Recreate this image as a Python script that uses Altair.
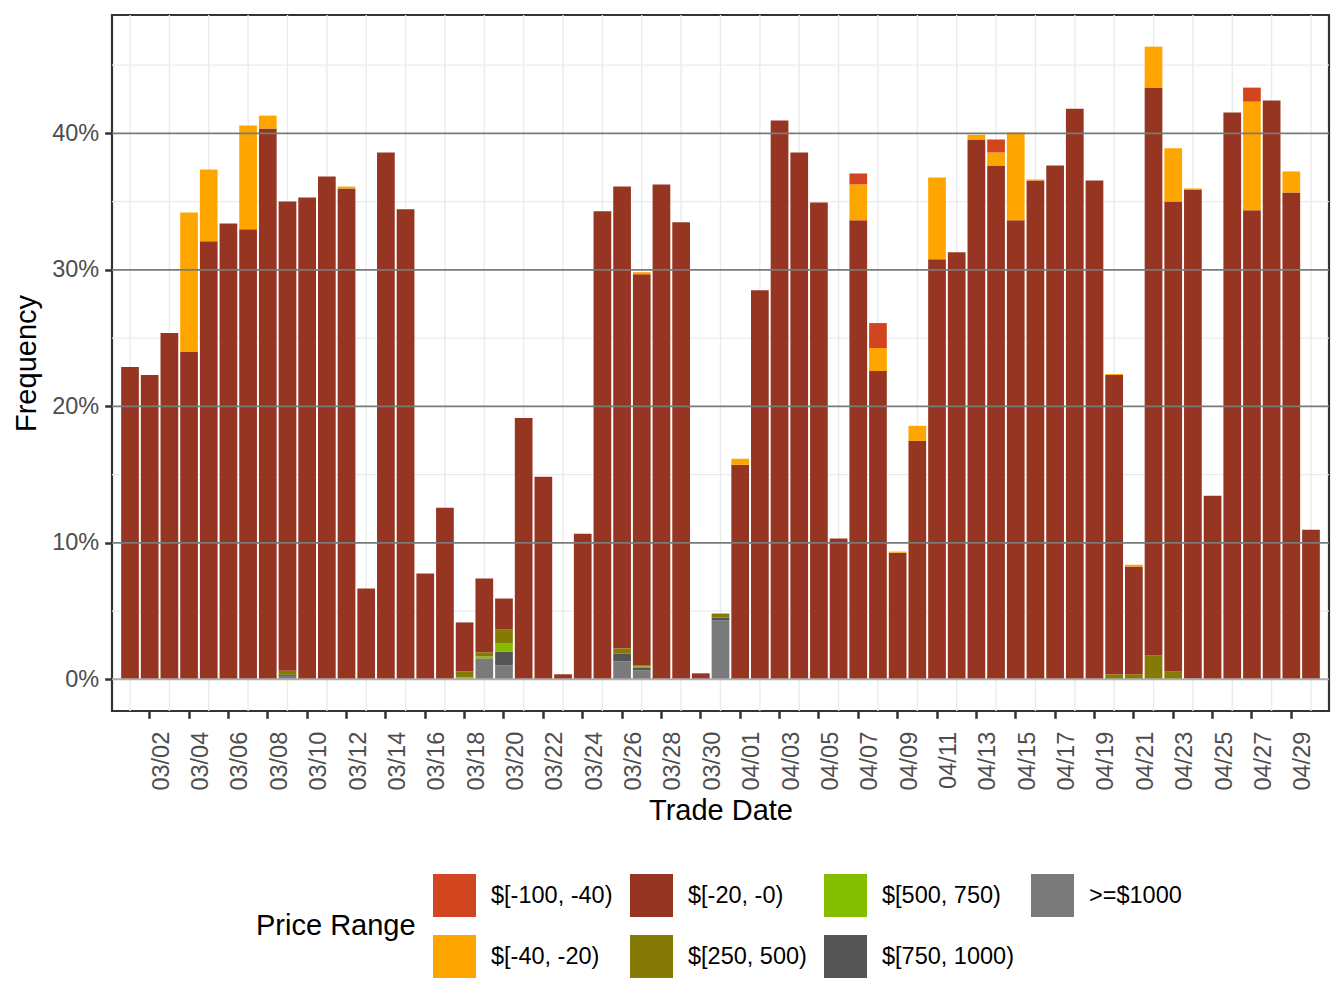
import altair as alt
import pandas as pd

# Trade dates: 1 March through 30 April
dates = [f"03/{d:02d}" for d in range(1, 32)] + [f"04/{d:02d}" for d in range(1, 31)]

# Price-range shares per trade date, in percent
neg_20_0 = [22.88, 22.30, 25.37, 23.98, 32.09, 33.40, 32.97, 40.35, 34.37, 35.30,
            36.84, 35.96, 6.65, 38.60, 34.43, 7.75, 12.57, 3.58, 5.41, 2.28,
            19.15, 14.84, 0.37, 10.67, 34.30, 33.83, 28.66, 36.26, 33.48, 0.44,
            0.00, 15.72, 28.50, 40.94, 38.60, 34.94, 10.31, 33.63, 22.59, 9.28,
            17.47, 30.77, 31.29, 39.55, 37.65, 33.63, 36.55, 37.65, 41.81, 36.55,
            21.93, 7.89, 41.60, 34.42, 35.82, 13.45, 41.52, 34.36, 42.40, 35.67,
            10.96]
neg_40_20 = {"03/04": 10.22, "03/05": 5.26, "03/07": 7.60, "03/08": 0.95, "03/12": 0.14,
             "03/27": 0.15, "04/01": 0.44, "04/07": 2.63, "04/08": 1.68, "04/09": 0.08,
             "04/10": 1.10, "04/11": 6.00, "04/13": 0.35, "04/14": 0.95, "04/15": 6.43,
             "04/16": 0.07, "04/20": 0.07, "04/21": 0.14, "04/22": 3.00, "04/23": 3.90,
             "04/24": 0.07, "04/27": 7.96, "04/29": 1.54}
neg_100_40 = {"04/07": 0.80, "04/08": 1.83, "04/14": 0.95, "04/27": 1.03}
pos_250_500 = {"03/09": 0.30, "03/18": 0.44, "03/19": 0.29, "03/20": 1.02, "03/26": 0.37,
               "03/27": 0.07, "03/31": 0.29, "04/20": 0.37, "04/21": 0.37, "04/22": 1.75,
               "04/23": 0.58, "04/24": 0.07}
pos_500_750 = {"03/18": 0.15, "03/19": 0.15, "03/20": 0.58, "03/27": 0.07}
pos_750_1000 = {"03/09": 0.08, "03/20": 1.02, "03/26": 0.58, "03/27": 0.22, "03/31": 0.22}
pos_1000 = {"03/09": 0.25, "03/19": 1.54, "03/20": 1.02, "03/26": 1.32, "03/27": 0.66,
            "03/31": 4.31}

# Legend entries (row by row) and their fills
legend_labels = ["$[-100, -40)", "$[-20, -0)", "$[500, 750)", ">=$1000",
                 "$[-40, -20)", "$[250, 500)", "$[750, 1000)"]
legend_colors = ["#D1461F", "#963622", "#84BD00", "#7A7A7A",
                 "#FFA500", "#857A05", "#555555"]

# Stacking order from the baseline upwards
stack_layers = [
    (">=$1000", pos_1000),
    ("$[750, 1000)", pos_750_1000),
    ("$[500, 750)", pos_500_750),
    ("$[250, 500)", pos_250_500),
    ("$[-20, -0)", dict(zip(dates, neg_20_0))),
    ("$[-40, -20)", neg_40_20),
    ("$[-100, -40)", neg_100_40),
]

rows = []
for rank, (label, series) in enumerate(stack_layers):
    for d, v in series.items():
        if v > 0:
            rows.append({"date": d, "range": label, "rank": rank, "freq": v / 100})
bars_df = pd.DataFrame(rows)

tick_dates = dates[1::2]
grid_dates = dates[0::2]
minor_y = [0.05, 0.15, 0.25, 0.35, 0.45]
major_y = [0.1, 0.2, 0.3, 0.4]

FONT = "Liberation Sans"
x_scale = alt.Scale(domain=dates, paddingInner=0.1, paddingOuter=0.465)
y_scale = alt.Scale(domain=[-0.0232, 0.4867], nice=False, zero=False)

# One x and one y definition shared by every layer, so the axes merge cleanly
x_enc = alt.X(
    "date:O",
    scale=x_scale,
    title="Trade Date",
    axis=alt.Axis(values=tick_dates, labelAngle=-90, labelAlign="right",
                  labelBaseline="top", grid=False, domain=False,
                  labelPadding=13, titlePadding=6),
)
y_axis = alt.Axis(values=[0, 0.1, 0.2, 0.3, 0.4], format=".0%", grid=False,
                  domain=False, labelPadding=6, titlePadding=10)
y_enc = alt.Y("freq:Q", scale=y_scale, title="Frequency", axis=y_axis)
y_stack = alt.Y("freq:Q", stack="zero", scale=y_scale, title="Frequency", axis=y_axis)

vgrid = alt.Chart(pd.DataFrame({"date": grid_dates})).mark_rule(
    color="#EBEBEB", strokeWidth=1.4
).encode(x=x_enc)

hgrid = alt.Chart(pd.DataFrame({"freq": minor_y})).mark_rule(
    color="#EBEBEB", strokeWidth=1.4
).encode(y=y_enc)

bars = alt.Chart(bars_df).mark_bar(strokeWidth=0).encode(
    x=x_enc,
    y=y_stack,
    color=alt.Color(
        "range:N",
        scale=alt.Scale(domain=legend_labels, range=legend_colors),
        legend=alt.Legend(
            title="Price Range",
            orient="none",
            legendX=144,
            legendY=859,
            direction="horizontal",
            columns=4,
            titleOrient="left",
            titleAnchor="middle",
            titleBaseline="middle",
            titlePadding=17,
            symbolType="square",
            symbolSize=1849,
            symbolStrokeWidth=0,
            symbolOpacity=1,
            labelOffset=15,
            columnPadding=17,
            rowPadding=18,
            labelLimit=400,
            padding=0,
        ),
    ),
    order=alt.Order("rank:Q", sort="ascending"),
)

major = alt.Chart(pd.DataFrame({"freq": major_y})).mark_rule(
    color="#7A7A7A", strokeWidth=1.7
).encode(y=y_enc)

zero = alt.Chart(pd.DataFrame({"freq": [0.0]})).mark_rule(
    color="#ADADAD", strokeWidth=2
).encode(y=y_enc)

chart = alt.layer(vgrid, hgrid, bars, major, zero).properties(
    width=1217,
    height=696,
    autosize=alt.AutoSizeParams(type="none"),
    padding={"left": 112, "top": 15, "right": 15, "bottom": 297},
).configure(
    font=FONT,
).configure_view(
    stroke="#333333", strokeWidth=2.2
).configure_axis(
    labelFont=FONT,
    labelFontSize=23.5,
    labelColor="#4D4D4D",
    titleFont=FONT,
    titleFontSize=29,
    titleFontWeight="normal",
    titleColor="#000000",
    tickColor="#333333",
    tickSize=7.3,
    tickWidth=2.5,
).configure_legend(
    labelFont=FONT,
    labelFontSize=23.5,
    labelColor="#000000",
    titleFont=FONT,
    titleFontSize=29,
    titleFontWeight="normal",
    titleColor="#000000",
)

chart.save("out.html", embed_options={"renderer": "svg", "actions": False})
